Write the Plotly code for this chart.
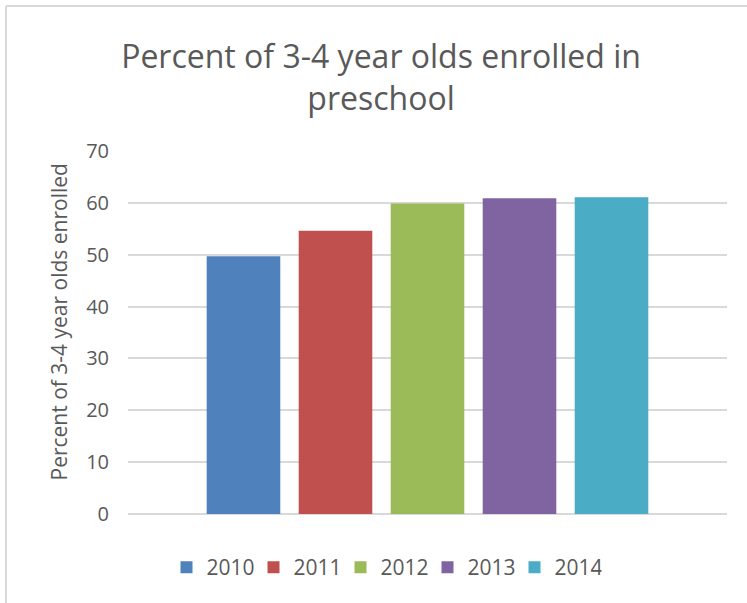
import plotly.graph_objects as go

years = ["2010", "2011", "2012", "2013", "2014"]
values = [49.7, 54.6, 59.9, 60.9, 61.1]
colors = ["#4F81BD", "#C0504D", "#9BBB59", "#8064A2", "#4BACC6"]
category = ["Percent enrolled"]

W, H = 747, 603
L, R, T, B = 128, 20, 151, 89
pw, ph = W - L - R, H - T - B

fig = go.Figure()
for yr, v, c in zip(years, values, colors):
    fig.add_trace(go.Bar(name=yr, x=category, y=[v], marker=dict(color=c, line=dict(width=0))))

font = "Open Sans"
grey = "#595959"

def px_x(px):
    return (px - L) / pw

def px_y(py):
    return (H - B - py) / ph

fig.update_layout(
    width=W, height=H,
    margin=dict(l=L, r=R, t=T, b=B, autoexpand=False),
    paper_bgcolor="white", plot_bgcolor="white",
    barmode="group", bargap=0.232, bargroupgap=0.2,
    title=dict(text="Percent of 3-4 year olds enrolled in<br>preschool",
               x=381 / W, xanchor="center", xref="container",
               y=1 - 68 / H, yanchor="top", yref="container",
               font=dict(family=font, size=32, color=grey)),
    font=dict(family=font, color=grey),
    showlegend=True,
    legend=dict(orientation="h", x=px_x(384), xanchor="center", y=px_y(547), yanchor="top",
                font=dict(family=font, size=21, color=grey),
                itemwidth=30, traceorder="normal",
                entrywidth=42, entrywidthmode="pixels"),
    xaxis=dict(showticklabels=False, showgrid=False, zeroline=False, showline=False,
               ticks=""),
    yaxis=dict(range=[0, 70], dtick=10, showgrid=True, gridcolor="#d9d9d9", gridwidth=1.5,
               zeroline=True, zerolinecolor="#d9d9d9", zerolinewidth=1.5,
               showline=False, ticks="", ticklabelstandoff=18,
               tickfont=dict(family=font, size=20, color=grey)),
    annotations=[
        dict(text="Percent of 3-4 year olds enrolled", textangle=-90,
             xref="paper", yref="paper", x=px_x(58), y=px_y(322.5),
             xanchor="center", yanchor="middle", showarrow=False,
             font=dict(family=font, size=21, color=grey)),
    ],
    shapes=[
        dict(type="line", xref="paper", yref="paper", x0=px_x(6), x1=px_x(760),
             y0=px_y(6), y1=px_y(6), line=dict(color="#d9d9d9", width=2)),
        dict(type="line", xref="paper", yref="paper", x0=px_x(6), x1=px_x(6),
             y0=px_y(6), y1=px_y(620), line=dict(color="#d9d9d9", width=2)),
    ],
)

fig.write_html("out.html")
